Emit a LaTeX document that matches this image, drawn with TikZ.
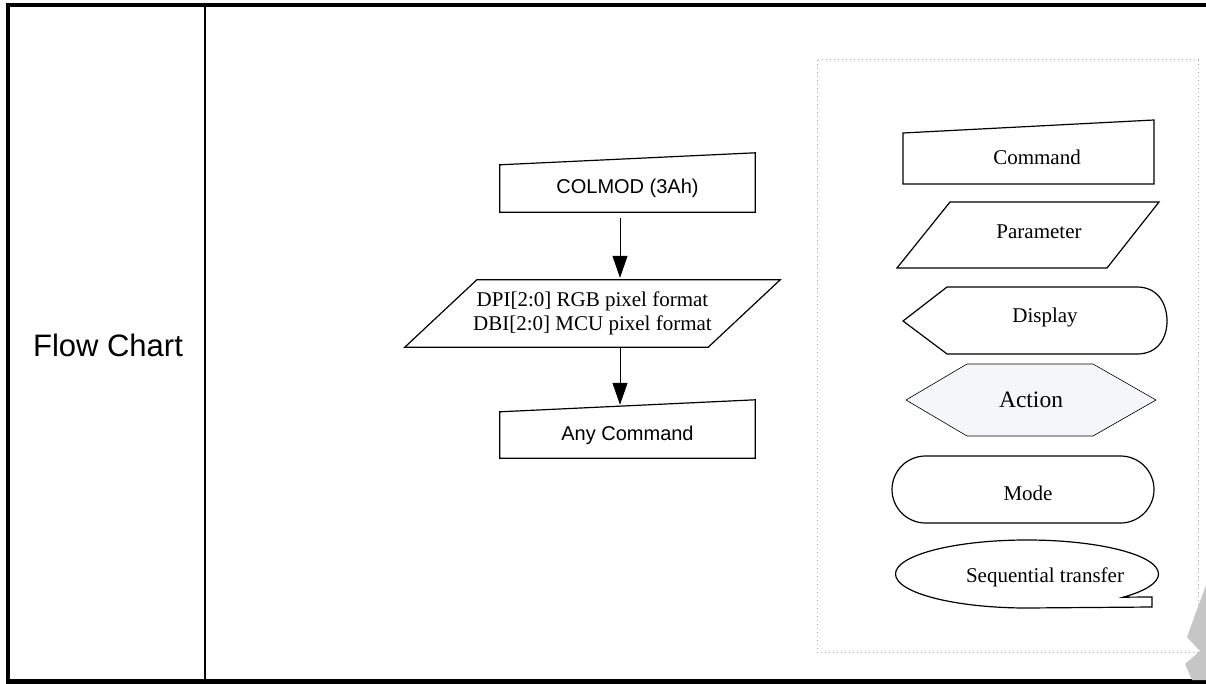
\documentclass[tikz,border=0pt]{standalone}
\usepackage{fontspec}
\setmainfont{Liberation Serif}
\newfontfamily\arialfont{Liberation Sans}
\usetikzlibrary{arrows.meta,calc}
\definecolor{actfill}{RGB}{244,246,250}

\begin{document}
\begin{tikzpicture}[x=1pt,y=-1pt,
    serif/.style={font=\fontsize{21}{24}\selectfont, align=center, inner sep=0pt},
    sans/.style={font=\arialfont\fontsize{20}{24}\selectfont, inner sep=0pt},
    outline/.style={draw, line width=1.2pt},
    flow/.style={-{Triangle[length=22pt,width=15pt]}, line width=1pt}]
    \useasboundingbox (0,0) rectangle (1206,684);

    \draw[line width=4.5pt] (1206,5) -- (8,5) -- (8,684);
    \draw[line width=5pt] (6,681.5) -- (1206,681.5);
    \draw[line width=2pt] (205,5) -- (205,680);
    \node[font=\arialfont\fontsize{31}{36}\selectfont] at (108,345)(title){Flow Chart};

    \draw[gray!60, line width=1pt, dash pattern=on 1pt off 3pt] (817,60) rectangle (1198,652);
    \fill[gray!45] (1206,585) -- (1187,637) -- (1200,651) -- (1185,664) -- (1192,680) -- (1206,680) -- cycle;

    \node[sans, minimum width=255pt, minimum height=47pt] at (627.5,188.5)(colmod){COLMOD (3Ah)};
    \node[serif, minimum width=303pt, minimum height=67pt] at (592.5,313.5)(pixfmt){DPI[2:0] RGB pixel format\\DBI[2:0] MCU pixel format};
    \node[sans, minimum width=255pt, minimum height=46pt] at (627.5,435)(anycmd){Any Command};

    \draw[outline] (colmod.south west) -- (colmod.north west) -- ($(colmod.north east)+(0,-12)$) -- (colmod.south east) -- cycle;
    \draw[outline] ($(pixfmt.north west)+(36,0)$) -- ($(pixfmt.north east)+(36,0)$) -- ($(pixfmt.south east)+(-36,0)$) -- ($(pixfmt.south west)+(-36,0)$) -- cycle;
    \draw[outline] (anycmd.south west) -- (anycmd.north west) -- ($(anycmd.north east)+(0,-12)$) -- (anycmd.south east) -- cycle;

    \path[flow]
        ([shift={(-7.5,6)}]colmod.south) edge ([shift={(27.5,-2)}]pixfmt.north)
        ([shift={(27.5,0)}]pixfmt.south) edge ([shift={(-7.5,-7)}]anycmd.north)
        ;

    \draw[outline] (903,133) -- (1154,120) -- (1154,184) -- (903,184) -- cycle;
    \node[serif] at (1037,157)(lgcmd){Command};
    \draw[outline] (950,202) -- (1159,202) -- (1107,268) -- (897,268) -- cycle;
    \node[serif] at (1039,232)(lgparam){Parameter};
    \draw[outline] (903,321) -- (947,287) -- (1137,287) .. controls (1158,287) and (1167,304) .. (1167,321) .. controls (1167,338) and (1158,354) .. (1137,354) -- (947,354) -- cycle;
    \node[serif] at (1045,317)(lgdisp){Display};
    \draw[line width=0.6pt, fill=actfill] (906,400) -- (967,364) -- (1093,364) -- (1156,400) -- (1093,436) -- (967,436) -- cycle;
    \node[serif, font=\fontsize{23.5}{28}\selectfont] at (1031,400)(lgact){Action};
    \draw[outline, rounded corners=33.5pt] (892,456) rectangle (1154,523);
    \node[serif] at (1028,493)(lgmode){Mode};
    \draw[outline] (1027,608) arc[start angle=270, end angle=-43, x radius=131.5pt, y radius=34pt] -- (1152,597) -- (1152,607) -- cycle;
    \node[serif] at (1045,577)(lgseq){Sequential transfer};
\end{tikzpicture}
\end{document}
